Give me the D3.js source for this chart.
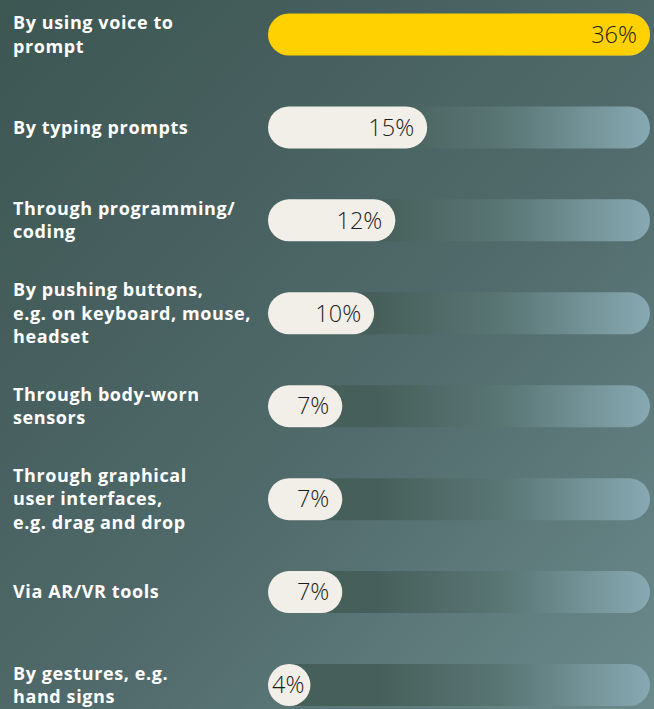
<!DOCTYPE html>
<html>
<head>
<meta charset="utf-8">
<script src="https://cdn.jsdelivr.net/npm/d3@7"></script>
<style>
  html, body { margin: 0; padding: 0; }
  body { width: 654px; height: 709px; overflow: hidden; }
</style>
</head>
<body>
<svg id="chart" width="654" height="709"></svg>
<script>
// Ways of interacting with AI tools, share of respondents (%)
const labels = [
  ["By using voice to", "prompt"],
  ["By typing prompts"],
  ["Through programming/", "coding"],
  ["By pushing buttons,", "e.g. on keyboard, mouse,", "headset"],
  ["Through body-worn", "sensors"],
  ["Through graphical", "user interfaces,", "e.g. drag and drop"],
  ["Via AR/VR tools"],
  ["By gestures, e.g.", "hand signs"]
];
const values = [36, 15, 12, 10, 7, 7, 7, 4];
const highlightIndex = 0;

const W = 654, H = 709;
const svg = d3.select("#chart");
const defs = svg.append("defs");

// background wash
const bg = defs.append("linearGradient").attr("id", "bg")
  .attr("x1", "0%").attr("y1", "0%").attr("x2", "100%").attr("y2", "100%");
bg.append("stop").attr("offset", "0%").attr("stop-color", "#3c5652");
bg.append("stop").attr("offset", "55%").attr("stop-color", "#50696a");
bg.append("stop").attr("offset", "100%").attr("stop-color", "#6b8a8c");
svg.append("rect").attr("width", W).attr("height", H).attr("fill", "url(#bg)");

// track gradient
const tg = defs.append("linearGradient").attr("id", "track")
  .attr("x1", "0%").attr("y1", "0%").attr("x2", "100%").attr("y2", "0%");
tg.append("stop").attr("offset", "0%").attr("stop-color", "#455f59");
tg.append("stop").attr("offset", "28%").attr("stop-color", "#465f5a");
tg.append("stop").attr("offset", "62%").attr("stop-color", "#5a7675");
tg.append("stop").attr("offset", "100%").attr("stop-color", "#87a9b2");

const barH = 42;
const x = d3.scaleLinear().domain([0, d3.max(values)]).range([268, 650]);
const y = d3.scalePoint().domain(d3.range(values.length)).range([34.5, 685]);

const rows = svg.selectAll("g.row").data(values).join("g").attr("class", "row")
  .attr("transform", (d, i) => `translate(0,${y(i)})`);

rows.append("rect")
  .attr("x", x(0)).attr("y", -barH / 2)
  .attr("width", x.range()[1] - x(0)).attr("height", barH)
  .attr("rx", barH / 2).attr("fill", "url(#track)");

rows.append("rect")
  .attr("x", x(0)).attr("y", -barH / 2)
  .attr("width", d => Math.max(barH, x(d) - x(0))).attr("height", barH)
  .attr("rx", barH / 2)
  .attr("fill", (d, i) => i === highlightIndex ? "#ffd100" : "#f2efe9");

rows.append("text")
  .attr("font-family", "'Open Sans', sans-serif")
  .attr("font-weight", 300)
  .attr("font-size", 23.5)
  .attr("fill", "#1d1d1b")
  .attr("dy", "0.35em")
  .text(d => d + "%")
  .each(function (d) {
    const w = this.getComputedTextLength();
    const end = Math.max(x(d) - 13, x(0) + 4 + w);
    d3.select(this).attr("x", end).attr("text-anchor", "end");
  });

// category labels, centred on each bar
const lh = 23.5;
rows.each(function (d, i) {
  const lines = labels[i];
  const t = d3.select(this).append("text")
    .attr("font-family", "'Open Sans', sans-serif")
    .attr("font-weight", 700)
    .attr("font-size", 18)
    .attr("letter-spacing", 0.6)
    .attr("fill", "#ffffff");
  lines.forEach((s, k) => {
    t.append("tspan").attr("x", 13)
      .attr("y", (k - (lines.length - 1) / 2) * lh)
      .attr("dy", "0.35em")
      .text(s);
  });
});
</script>
</body>
</html>
